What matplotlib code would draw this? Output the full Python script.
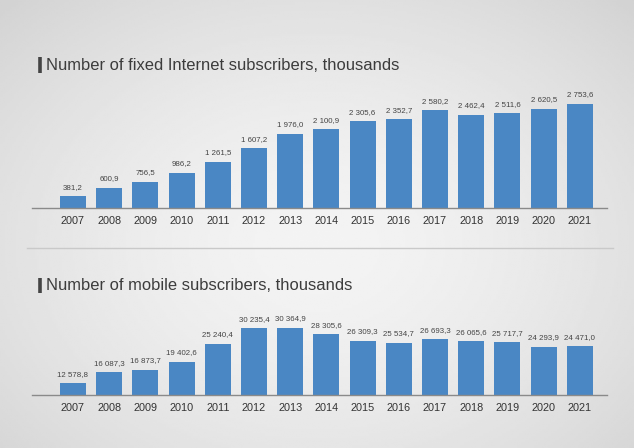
import numpy as np
import matplotlib
matplotlib.use("Agg")
import matplotlib.pyplot as plt
from matplotlib.lines import Line2D

years = [str(y) for y in range(2007, 2022)]
fixed_subs = [381.2, 600.9, 756.5, 986.2, 1261.5, 1607.2, 1976.0, 2100.9,
              2305.6, 2352.7, 2580.2, 2462.4, 2511.6, 2620.5, 2753.6]
mobile_subs = [12578.8, 16087.3, 16873.7, 19402.6, 25240.4, 30235.4, 30364.9,
               28305.6, 26309.3, 25534.7, 26693.3, 26065.6, 25717.7, 24293.9,
               24471.0]
title_fixed = "Number of fixed Internet subscribers, thousands"
title_mobile = "Number of mobile subscribers, thousands"

plt.rcParams['font.family'] = ['Liberation Sans', 'DejaVu Sans']

W, H = 634, 448
fig = plt.figure(figsize=(W / 100, H / 100), dpi=100)

# background gradient
bg = fig.add_axes([0, 0, 1, 1])
yy, xx = np.mgrid[0:1:200j, 0:1:300j]
r = np.sqrt(((xx - 0.5) / 0.75) ** 2 + ((yy - 0.55) / 0.8) ** 2)
bg.imshow(0.955 - 0.14 * r ** 1.6, cmap='gray', vmin=0, vmax=1,
          extent=[0, 1, 0, 1], aspect='auto', interpolation='bilinear')
bg.axis('off')


def fmt(v):
    return f"{v:,.1f}".replace(",", " ").replace(".", ",")


def px_axes(left, top, width, height):
    return fig.add_axes([left / W, 1 - (top + height) / H, width / W, height / H])


def panel(ax, values, ymin, ymax):
    x = np.arange(len(values))
    ax.bar(x, values, width=0.72, color='#4a87c4', zorder=2)
    for xi, v in zip(x, values):
        ax.annotate(fmt(v), (xi, v), xytext=(0, 4), textcoords='offset points',
                    ha='center', va='bottom', fontsize=5.7, color='#444444')
    ax.set_xlim(-1.13, 14.75)
    ax.set_ylim(ymin, ymax)
    ax.set_facecolor('none')
    for s in ['top', 'right', 'left']:
        ax.spines[s].set_visible(False)
    ax.spines['bottom'].set_color('#8a8a8a')
    ax.spines['bottom'].set_linewidth(1.0)
    ax.set_yticks([])
    ax.set_xticks(x)
    ax.set_xticklabels(years, fontsize=7.8, color='#333333')
    ax.tick_params(axis='x', length=0, pad=6)


ax1 = px_axes(32, 70, 575, 138)
panel(ax1, fixed_subs, 80, 80 + 138 / 0.039)

ax2 = px_axes(32, 300, 575, 95)
panel(ax2, mobile_subs, 8817, 8817 + 95 / 0.00311)

# titles with marker bars
for ty, txt in [(65, title_fixed), (285, title_mobile)]:
    fig.text(46.5 / W, 1 - ty / H, txt, fontsize=11.9, color='#3c3c3c',
             va='center', ha='left')
    fig.add_artist(Line2D([39.5 / W, 39.5 / W], [1 - (ty - 7.5) / H, 1 - (ty + 7.5) / H],
                          color='#444444', linewidth=2.6, solid_capstyle='butt'))

# separator line
fig.add_artist(Line2D([27 / W, 613 / W], [1 - 248 / H, 1 - 248 / H],
                      color='#c9c9c9', linewidth=1.0))

fig.savefig("out.png", dpi=100)
